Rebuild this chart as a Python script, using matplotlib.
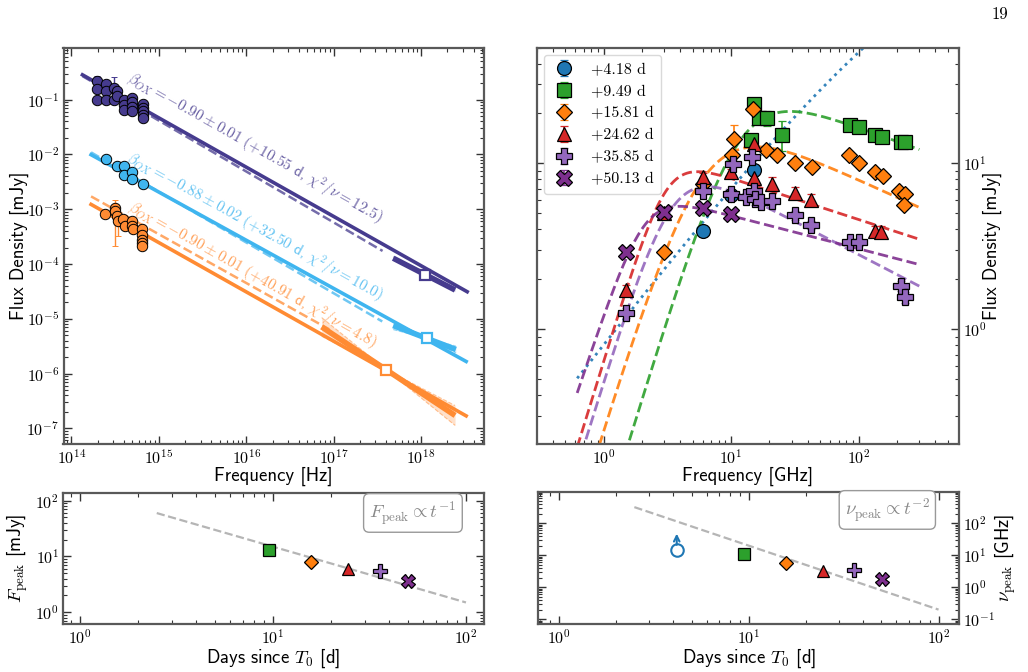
import numpy as np
import matplotlib
matplotlib.use('Agg')
import matplotlib.pyplot as plt
from matplotlib.ticker import LogLocator, NullFormatter, FuncFormatter

plt.rcParams['mathtext.fontset'] = 'cm'
plt.rcParams['font.family'] = ['cmss10', 'DejaVu Sans']
plt.rcParams['axes.unicode_minus'] = False

# ---------------- Panel A: optical/NIR + X-ray SEDs ----------------
ox_epochs = ['+10.55', '+32.50', '+40.91']
ox_beta = [-0.90, -0.88, -0.90]
ox_beta_err = [0.01, 0.02, 0.01]
ox_chi2 = [12.5, 10.0, 4.8]
ox_colors = ['#463b8e', '#3fb5ef', '#ff8b33']

opt1_nu = [1.99e14, 1.99e14, 1.99e14, 2.49e14, 2.49e14, 2.49e14, 3.07e14, 3.07e14,
           3.36e14, 3.36e14, 4.0e14, 4.0e14, 4.0e14, 4.98e14, 4.98e14, 4.98e14, 4.98e14,
           6.52e14, 6.52e14, 6.52e14, 6.52e14, 6.52e14]
opt1_F = [0.216, 0.159, 0.100, 0.196, 0.142, 0.100, 0.163, 0.100,
          0.142, 0.118, 0.100, 0.081, 0.066, 0.107, 0.089, 0.075, 0.061,
          0.085, 0.072, 0.061, 0.052, 0.046]
opt1_err = [0.058, 0.01, 0.005, 0.01, 0.008, 0.005, 0.097, 0.005,
            0.008, 0.006, 0.005, 0.004, 0.003, 0.006, 0.005, 0.004, 0.003,
            0.004, 0.004, 0.003, 0.003, 0.002]

opt2_nu = [2.49e14, 3.36e14, 4.0e14, 4.0e14, 4.98e14, 4.98e14, 6.52e14]
opt2_F = [8.4e-3, 6.2e-3, 6.2e-3, 4.3e-3, 4.7e-3, 3.5e-3, 2.9e-3]

opt3_nu = [2.43e14, 3.16e14, 3.16e14, 3.30e14, 3.45e14, 3.94e14, 4.10e14, 4.98e14,
           4.98e14, 5.11e14, 6.35e14, 6.35e14, 6.35e14, 6.35e14, 6.35e14]
opt3_F = [8.3e-4, 1.05e-3, 9.1e-4, 7.4e-4, 6.0e-4, 6.5e-4, 4.9e-4, 6.0e-4,
          4.9e-4, 4.3e-4, 4.3e-4, 3.4e-4, 2.8e-4, 2.4e-4, 2.1e-4]
opt3_err_lo = [0, 8.4e-4, 0, 0, 2.8e-4, 0, 0, 0, 0, 0, 0, 0, 0, 0, 0]
opt3_err_hi = [0, 4.0e-4, 0, 0, 1.5e-4, 0, 0, 0, 0, 0, 0, 0, 0, 0, 0]

# optical-to-X-ray power-law fits: norm at 1e15 Hz (mJy)
fit_norm15 = [0.0466, 2.06e-3, 2.46e-4]
fit_lo = [1.34e14, 1.68e14, 1.68e14]
fit_hi = [3.37e18, 3.28e18, 3.28e18]
# optical-only extrapolations
proj_norm15 = [0.0416, 2.09e-3, 3.5e-4]
proj_slope = [-0.93, -0.927, -0.891]
proj_lo = [1.34e14, 1.68e14, 1.68e14]
proj_hi = [3.63e17, 3.6e17, 8.9e16]
# X-ray spectra
xr_nu_piv = [1.12e18, 1.17e18, 4.0e17]
xr_F_piv = [6.37e-5, 4.37e-6, 1.17e-6]
xr_slope = [-0.82, -0.61, -1.06]
xr_lo = [4.8e17, 4.8e17, 7.3e16]
xr_hi = [2.45e18, 2.5e18, 2.45e18]
xr_spread = [0.07, 0.19, 0.23]

# ---------------- Panel B: radio SEDs ----------------
rad_labels = ['+4.18 d', '+9.49 d', '+15.81 d', '+24.62 d', '+35.85 d', '+50.13 d']
rad_colors = ['#1f77b4', '#2ca02c', '#ff7f0e', '#d62728', '#9467bd', '#7e2f8e']
rad_markers = ['o', 's', 'D', '^', 'P', 'X']

r1_nu = [6.0, 10.0, 15.0]
r1_F = [3.9, 6.4, 9.1]
r1_err = [0.15, 0.3, 0.4]
r2_nu = [14.2, 15.1, 16.5, 19.2, 25.2, 86, 101, 135, 152, 214, 232]
r2_F = [13.9, 22.9, 18.8, 18.8, 14.9, 17.1, 16.6, 14.9, 14.4, 13.4, 13.4]
r2_err = [0.8, 1.2, 1.5, 2.0, 3.0, 1.0, 1.0, 0.9, 0.9, 0.8, 0.8]
r3_nu = [3.0, 6.0, 10.1, 10.5, 14.8, 18.9, 23.0, 32.0, 43.0, 84.6, 101, 135, 155, 209, 232, 229]
r3_F = [2.93, 7.5, 11.2, 14.1, 21.4, 12.0, 11.2, 10.1, 9.5, 11.2, 10.0, 8.9, 8.4, 6.8, 6.5, 5.6]
r3_err = [0.15, 0.3, 0.5, 2.9, 1.0, 0.5, 0.5, 0.4, 0.4, 0.5, 0.4, 0.4, 0.4, 0.3, 0.3, 0.3]
r4_nu = [1.5, 3.0, 6.04, 10.0, 15.1, 15.1, 21.0, 31.5, 42.4, 135, 150]
r4_F = [1.73, 4.98, 8.3, 8.8, 13.0, 8.1, 7.55, 6.66, 6.04, 3.9, 3.86]
r4_err = [0.1, 0.2, 0.4, 0.4, 0.6, 0.4, 0.7, 0.5, 0.5, 0.3, 0.3]
r5_nu = [1.5, 6.04, 10.4, 14.5, 10.0, 13.0, 15.1, 15.4, 17.3, 21.0, 31.5, 42.4, 86, 101, 216, 232]
r5_F = [1.25, 6.8, 9.96, 10.9, 6.5, 6.3, 6.8, 6.1, 5.8, 5.9, 4.86, 4.24, 3.33, 3.33, 1.82, 1.55]
r5_err = [0.08, 0.3, 0.4, 0.5, 0.3, 0.3, 0.5, 0.5, 0.3, 0.3, 0.3, 0.25, 0.15, 0.15, 0.12, 0.12]
r6_nu = [1.5, 3.0, 6.0, 10.0]
r6_F = [2.93, 5.1, 5.4, 4.93]
r6_err = [0.15, 0.2, 0.2, 0.2]

# smoothed broken power-law model parameters for each epoch
sb_nu_b = [562.0, 11.5, 5.92, 3.11, 3.46, 2.07]
sb_F_b = [476.0, 30.2, 21.4, 10.9, 10.8, 6.62]
sb_a1 = [1.0, 2.5, 2.5, 2.5, 2.5, 2.3]
sb_a2 = [0.0, -0.28, -0.35, -0.25, -0.40, -0.20]
sb_s = [0.55, 0.85, 0.7, 1.5, 1.0, 1.5]

# ---------------- Panels C/D: peak evolution ----------------
days = [4.18, 9.49, 15.81, 24.62, 35.85, 50.13]
F_peak = [np.nan, 13.2, 8.1, 5.96, 5.56, 3.58]
nu_peak = [15.0, 11.3, 5.9, 3.16, 3.4, 1.78]
nu_peak_lowerlimit = [True, False, False, False, False, False]

W, H = 1028, 672
fig = plt.figure(figsize=(W / 100, H / 100), dpi=100)


def box(x0, y0, x1, y1):
    return [x0 / W, 1 - y1 / H, (x1 - x0) / W, (y1 - y0) / H]


axA = fig.add_axes(box(63.5, 48, 484, 444))
axB = fig.add_axes(box(537, 47.5, 959, 444))
axC = fig.add_axes(box(63.3, 492.7, 484, 624))
axD = fig.add_axes(box(538.3, 492.3, 959.3, 624))

decfmt = FuncFormatter(lambda v, p: r'$10^{%d}$' % int(round(np.log10(v))))


def style(ax):
    ax.set_xscale('log')
    ax.set_yscale('log')
    for a in (ax.xaxis, ax.yaxis):
        a.set_major_locator(LogLocator(base=10, numticks=30))
        a.set_minor_locator(LogLocator(base=10, subs=np.arange(2, 10) * 1.0, numticks=100))
        a.set_major_formatter(decfmt)
        a.set_minor_formatter(NullFormatter())
    ax.tick_params(which='both', direction='in', top=True, right=True, left=True,
                   bottom=True, color='0.2', labelsize=11.5, pad=3)
    ax.tick_params(which='major', length=6, width=1.0)
    ax.tick_params(which='minor', length=3, width=0.8)
    for sp in ax.spines.values():
        sp.set_linewidth(1.6)
        sp.set_color('0.35')


for ax in (axA, axB, axC, axD):
    style(ax)

LFS = 13.5

# ---------------- Panel A ----------------
axA.set_xlim(10 ** 13.91, 10 ** 18.72)
axA.set_ylim(10 ** -7.287, 10 ** -0.056)

for i in range(3):
    c = ox_colors[i]
    nu = np.logspace(np.log10(fit_lo[i]), np.log10(fit_hi[i]), 50)
    axA.plot(nu, fit_norm15[i] * (nu / 1e15) ** ox_beta[i], color=c, lw=2.6, zorder=2)
    nu = np.logspace(np.log10(proj_lo[i]), np.log10(proj_hi[i]), 50)
    axA.plot(nu, proj_norm15[i] * (nu / 1e15) ** proj_slope[i], color=c, lw=1.8,
             ls='--', alpha=0.75, zorder=2)
    nu = np.logspace(np.log10(xr_lo[i]), np.log10(xr_hi[i]), 50)
    dl = np.log10(nu / xr_nu_piv[i])
    mid = xr_F_piv[i] * (nu / xr_nu_piv[i]) ** xr_slope[i]
    up = mid * 10 ** (xr_spread[i] * np.abs(dl))
    lo = mid * 10 ** (-xr_spread[i] * np.abs(dl))
    axA.fill_between(nu, lo, up, color=c, alpha=0.25, lw=0, zorder=2)
    axA.plot(nu, up, color=c, lw=0.8, ls='--', alpha=0.5, zorder=2)
    axA.plot(nu, lo, color=c, lw=0.8, ls='--', alpha=0.5, zorder=2)
    axA.plot(nu, mid, color=c, lw=4.0, zorder=3, solid_capstyle='butt')
    axA.plot([xr_nu_piv[i]], [xr_F_piv[i]], 's', mfc='white', mec=c, mew=1.6, ms=7, zorder=5)

axA.errorbar(opt1_nu, opt1_F, yerr=[np.zeros(len(opt1_err)), opt1_err], fmt='o',
             color=ox_colors[0], mfc=ox_colors[0], mec='k', mew=0.7, ms=7.5, capsize=2,
             elinewidth=1, zorder=4)
axA.plot(opt2_nu, opt2_F, 'o', color=ox_colors[1], mfc=ox_colors[1], mec='k', mew=0.7,
         ms=7.5, zorder=4)
axA.errorbar(opt3_nu, opt3_F, yerr=[opt3_err_lo, opt3_err_hi], fmt='o', color=ox_colors[2],
             mfc=ox_colors[2], mec='k', mew=0.7, ms=7.5, capsize=2, elinewidth=1, zorder=4)

text_anchor_nu = [4.2e14, 4.1e14, 4.35e14]
text_anchor_F = [0.215, 7.6e-3, 9.4e-4]
for i in range(3):
    p1 = axA.transData.transform((1e15, fit_norm15[i]))
    p2 = axA.transData.transform((1e18, fit_norm15[i] * 1000 ** ox_beta[i]))
    ang = np.degrees(np.arctan2(p2[1] - p1[1], p2[0] - p1[0]))
    s = (r'$\beta_{OX} = %.2f \pm %.2f\ (%s$ d, $\chi^2/\nu = %.1f)$'
         % (ox_beta[i], ox_beta_err[i], ox_epochs[i], ox_chi2[i]))
    axA.text(text_anchor_nu[i], text_anchor_F[i], s, rotation=ang, rotation_mode='anchor',
             ha='left', va='baseline', color=ox_colors[i], alpha=0.8, fontsize=11,
             zorder=6)

axA.set_xlabel('Frequency [Hz]', fontsize=LFS, labelpad=0)
axA.set_ylabel('Flux Density [mJy]', fontsize=LFS, labelpad=-2)

# ---------------- Panel B ----------------
axB.set_xlim(0.30, 614)
axB.set_ylim(0.202, 50)
nu_grid = np.logspace(np.log10(0.62), np.log10(300), 400)
for i in range(6):
    x = nu_grid / sb_nu_b[i]
    s = sb_s[i]
    model = sb_F_b[i] * (x ** (-s * sb_a1[i]) + x ** (-s * sb_a2[i])) ** (-1.0 / s)
    axB.plot(nu_grid, model, color=rad_colors[i], lw=2.0, ls=':' if i == 0 else '--',
             alpha=0.9, zorder=2)

rnu = [r1_nu, r2_nu, r3_nu, r4_nu, r5_nu, r6_nu]
rF = [r1_F, r2_F, r3_F, r4_F, r5_F, r6_F]
rerr = [r1_err, r2_err, r3_err, r4_err, r5_err, r6_err]
msz = [10, 10, 8.2, 10, 11, 11]
for i in range(6):
    axB.errorbar(rnu[i], rF[i], yerr=rerr[i], fmt=rad_markers[i], color=rad_colors[i],
                 mfc=rad_colors[i], mec='k', mew=0.9, ms=msz[i], capsize=3, elinewidth=1.2,
                 label=rad_labels[i], zorder=4)
leg = axB.legend(loc='upper left', fontsize=11.5, numpoints=1, handlelength=1.5,
                 handletextpad=0.9, borderpad=0.5, labelspacing=0.48, borderaxespad=0.45,
                 framealpha=1, edgecolor='0.85')
for t in leg.get_texts():
    t.set_fontfamily('cmr10')

axB.tick_params(labelleft=False, labelright=True)
axB.yaxis.set_label_position('right')
axB.set_xlabel('Frequency [GHz]', fontsize=LFS, labelpad=0)
axB.set_ylabel('Flux Density [mJy]', fontsize=LFS, labelpad=-3)

# ---------------- Panel C ----------------
bsz = [9, 9, 7.5, 9, 10, 10]
axC.set_xlim(0.82, 124)
axC.set_ylim(0.617, 139)
t_grid = np.logspace(np.log10(2.5), 2, 50)
axC.plot(t_grid, 150.0 / t_grid, ls='--', color='#b5b5b5', lw=1.6, zorder=1)
for i in range(1, 6):
    axC.plot(days[i], F_peak[i], rad_markers[i], color=rad_colors[i], mec='k', mew=0.9,
             ms=bsz[i], zorder=3)
axC.text(0.935, 0.95, r'$F_{\rm peak} \propto t^{-1}$', transform=axC.transAxes, ha='right',
         va='top', fontsize=13.5, color='#888888',
         bbox=dict(boxstyle='round,pad=0.3', fc='white', ec='#999999', lw=1.0))
axC.set_xlabel(r'Days since $T_0$ [d]', fontsize=LFS, labelpad=0)
axC.set_ylabel(r'$F_{\rm peak}$ [mJy]', fontsize=LFS, labelpad=4)

# ---------------- Panel D ----------------
axD.set_xlim(0.78, 128.6)
axD.set_ylim(0.071, 930)
axD.plot(t_grid, 2000.0 / t_grid ** 2, ls='--', color='#b5b5b5', lw=1.6, zorder=1)
for i in range(6):
    if nu_peak_lowerlimit[i]:
        axD.plot(days[i], nu_peak[i], 'o', mfc='none', mec=rad_colors[i], mew=1.5, ms=9,
                 zorder=3)
        axD.annotate('', xy=(days[i], nu_peak[i] * 10 ** 0.5),
                     xytext=(days[i], nu_peak[i] * 10 ** 0.15),
                     arrowprops=dict(arrowstyle='->', color=rad_colors[i], lw=1.5,
                                     shrinkA=0, shrinkB=0))
    else:
        axD.plot(days[i], nu_peak[i], rad_markers[i], color=rad_colors[i], mec='k', mew=0.9,
                 ms=bsz[i], zorder=3)
axD.text(0.93, 0.97, r'$\nu_{\rm peak} \propto t^{-2}$', transform=axD.transAxes, ha='right',
         va='top', fontsize=13.5, color='#888888',
         bbox=dict(boxstyle='round,pad=0.3', fc='white', ec='#999999', lw=1.0))
axD.tick_params(labelleft=False, labelright=True)
axD.yaxis.set_label_position('right')
axD.set_xlabel(r'Days since $T_0$ [d]', fontsize=LFS, labelpad=0)
axD.set_ylabel(r'$\nu_{\rm peak}$ [GHz]', fontsize=LFS, labelpad=-2)

fig.text(1000 / W, 1 - 14 / H, '19', fontfamily='cmr10', fontsize=12, ha='center', va='center')

fig.savefig('out.png', dpi=100)
